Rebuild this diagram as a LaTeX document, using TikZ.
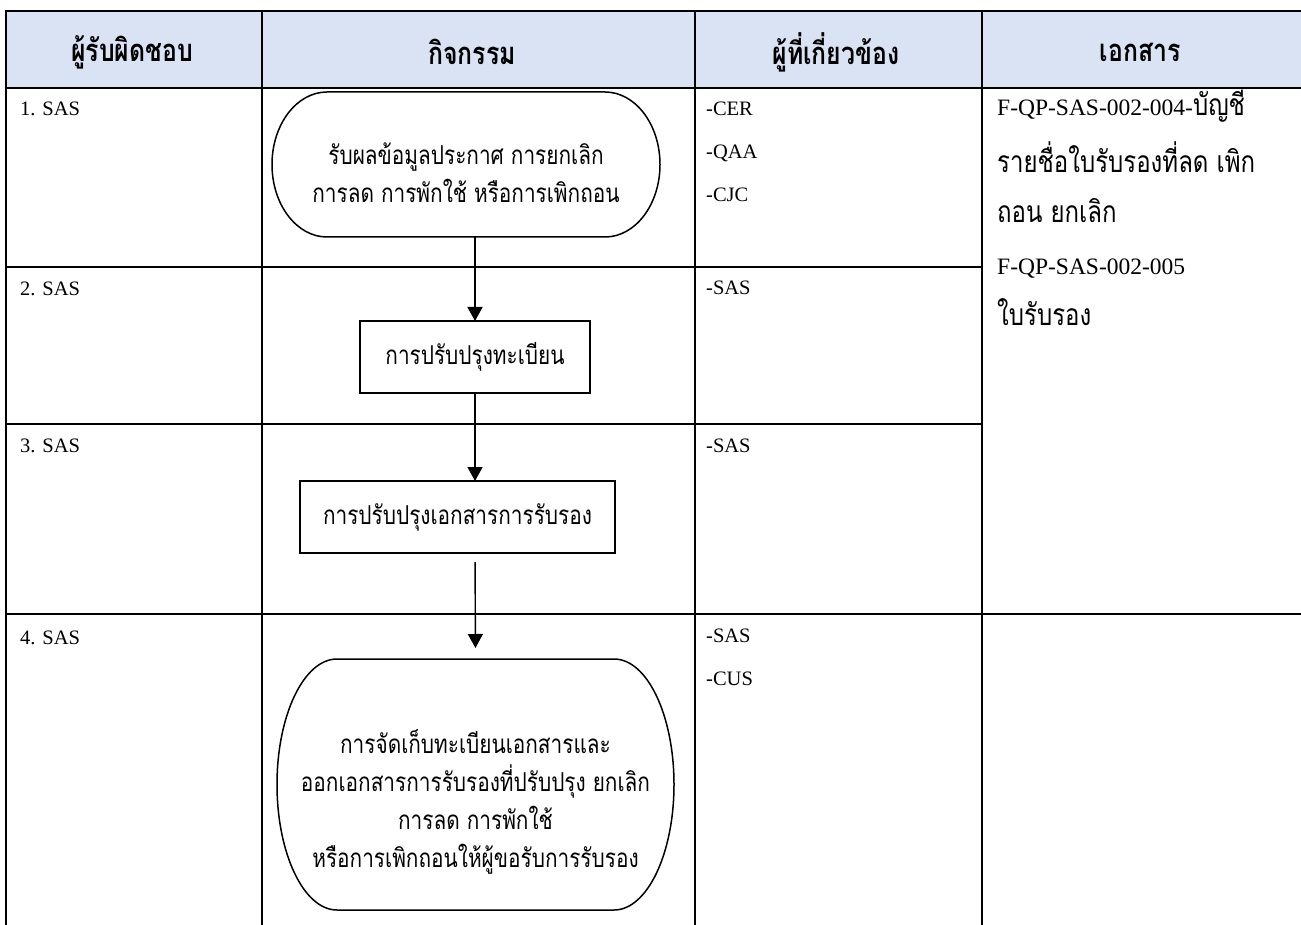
\documentclass[tikz,border=0pt]{standalone}
\usepackage{fontspec}
\setmainfont{Liberation Serif}
\newfontfamily\thai[Script=Thai,FakeStretch=0.8]{Loma}
\usetikzlibrary{arrows.meta,calc}
\definecolor{hdrblue}{RGB}{218,227,243}
% terminator outline drawn round a named node (#1), side bulge #2 pt
\newcommand\termpath[2]{%
  \draw[boxline] ([xshift=#2pt]#1.north west) -- ([xshift=-#2pt]#1.north east)
    .. controls ([xshift={-0.448*#2pt}]#1.north east) and ($(#1.east)!0.552!(#1.north east)$) .. (#1.east)
    .. controls ($(#1.east)!0.552!(#1.south east)$) and ([xshift={-0.448*#2pt}]#1.south east) .. ([xshift=-#2pt]#1.south east)
    -- ([xshift=#2pt]#1.south west)
    .. controls ([xshift={0.448*#2pt}]#1.south west) and ($(#1.west)!0.552!(#1.south west)$) .. (#1.west)
    .. controls ($(#1.west)!0.552!(#1.north west)$) and ([xshift={0.448*#2pt}]#1.north west) .. ([xshift=#2pt]#1.north west) -- cycle;}
\begin{document}
\begin{tikzpicture}[x=1pt,y=1pt,
  tab/.style={line width=2.6pt},
  boxline/.style={line width=1.5pt},
  arr/.style={line width=1.4pt,-{Triangle[length=14pt,width=15pt]}},
  hd/.style={inner sep=0pt,font=\thai\bfseries\fontsize{31}{34}\selectfont},
  lbl/.style={anchor=mid west,inner sep=0pt,font=\fontsize{20.5}{24}\selectfont},
  doc/.style={anchor=mid west,inner sep=0pt,font=\fontsize{23.5}{26}\selectfont},
  docth/.style={doc,font=\thai\fontsize{30}{32}\selectfont},
  proc/.style={draw,line width=1.5pt,inner sep=0pt,outer sep=0pt,align=center,font=\thai\fontsize{26}{38}\selectfont},
  term/.style={inner sep=0pt,outer sep=0pt},
  termtext/.style={inner sep=0pt,align=center,font=\thai\fontsize{26}{38}\selectfont}]
\useasboundingbox (0,0) rectangle (1301,-925);
% header band and table rules
\fill[hdrblue] (6,-11) rectangle (1310,-88);
\draw[tab] (4.7,-11) -- (1310,-11);
\draw[tab] (4.7,-88) -- (1310,-88);
\draw[tab] (6,-267) -- (982,-267);
\draw[tab] (6,-424) -- (982,-424);
\draw[tab] (6,-614) -- (1310,-614);
\draw[tab] (6,-11) -- (6,-930);
\draw[tab] (262,-11) -- (262,-930);
\draw[tab] (695,-11) -- (695,-930);
\draw[tab] (982,-11) -- (982,-930);
% header
\node[hd] (h1) at (132,-52) {ผู้รับผิดชอบ};
\node[hd] (h2) at (472,-52) {กิจกรรม};
\node[hd] (h3) at (836,-52) {ผู้ที่เกี่ยวข้อง};
\node[hd] (h4) at (1140,-52) {เอกสาร};
% responsible
\node[lbl] (r1) at (20,-113) {1. SAS};
\node[lbl] (r2) at (20,-293) {2. SAS};
\node[lbl] (r3) at (20,-450) {3. SAS};
\node[lbl] (r4) at (20,-642) {4. SAS};
% involved
\node[lbl] (i1a) at (706,-113) {-CER};
\node[lbl] (i1b) at (706,-156) {-QAA};
\node[lbl] (i1c) at (706,-199) {-CJC};
\node[lbl] (i2) at (706,-292) {-SAS};
\node[lbl] (i3) at (706,-450) {-SAS};
\node[lbl] (i4a) at (706,-640) {-SAS};
\node[lbl] (i4b) at (706,-683) {-CUS};
% documents
\node[doc] (d1) at (997,-113) {F-QP-SAS-002-004-{\thai\fontsize{30}{32}\selectfont บัญชี}};
\node[docth] (d2) at (997,-170) {รายชื่อใบรับรองที่ลด เพิก};
\node[docth] (d3) at (997,-220) {ถอน ยกเลิก};
\node[doc] (d4) at (997,-272) {F-QP-SAS-002-005};
\node[docth] (d5) at (997,-323) {ใบรับรอง};
% activities
\node[term,minimum width=388pt,minimum height=145pt] (b1) at (466,-164.5) {};
\termpath{b1}{55}
\node[termtext] (b1t) at ([yshift=-8pt]b1.center)
  {รับผลข้อมูลประกาศ การยกเลิก\\การลด การพักใช้ หรือการเพิกถอน};
\node[proc,minimum width=230pt,minimum height=72pt] (b2) at (475,-357) {การปรับปรุงทะเบียน};
\node[proc,minimum width=315pt,minimum height=72pt] (b3) at (457.5,-517) {การปรับปรุงเอกสารการรับรอง};
\node[term,minimum width=397pt,minimum height=251pt] (b4) at (475.5,-784.5) {};
\termpath{b4}{60}
\node[termtext] (b4t) at ([yshift=-17pt]b4.center)
  {การจัดเก็บทะเบียนเอกสารและ\\ออกเอกสารการรับรองที่ปรับปรุง ยกเลิก\\การลด การพักใช้\\หรือการเพิกถอนให้ผู้ขอรับการรับรอง};
% connectors
\draw[arr] (b1.south -| b2.north) -- (b2.north);
\draw[arr] (b2.south) -- (b2.south |- b3.north);
\draw[arr,shorten <=9pt,shorten >=11pt] (b2.south |- b3.south) -- (b4.north);
\end{tikzpicture}
\end{document}
